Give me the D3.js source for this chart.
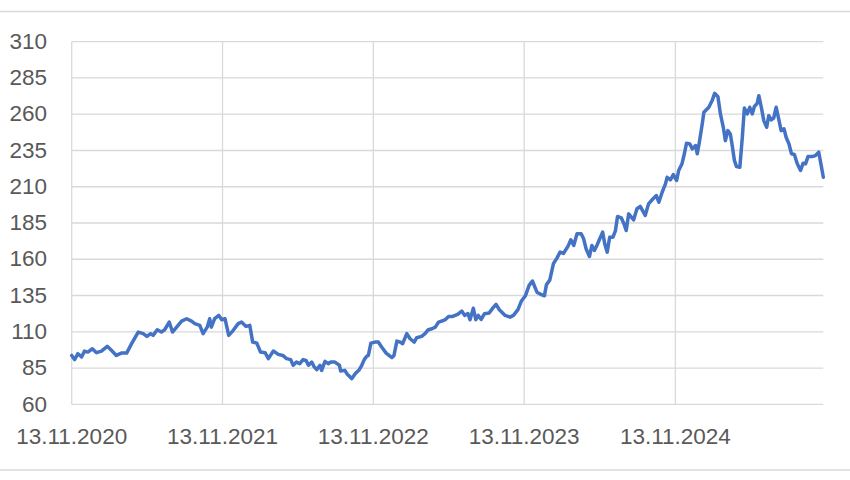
<!DOCTYPE html>
<html>
<head>
<meta charset="utf-8">
<script src="https://cdn.jsdelivr.net/npm/d3@7"></script>
<style>
  html, body { margin: 0; padding: 0; background: #fff; }
  svg { display: block; }
</style>
</head>
<body>
<div id="chart"></div>
<script>
// Price series: days after the first date, and value.
const START_DATE = '2020-11-13';
const DAY_OFFSETS = [
  0, 7, 15, 24, 31, 39, 50, 60, 72, 86, 96, 108, 120, 133, 145, 161, 173, 182, 191, 197,
  207, 217, 225, 236, 244, 254, 266, 278, 290, 298, 310, 318, 328, 334, 338, 346, 356, 363, 371, 380,
  391, 403, 411, 422, 431, 438, 448, 457, 468, 476, 488, 500, 511, 520, 530, 536, 544, 552, 560, 567,
  573, 581, 586, 593, 601, 605, 613, 621, 627, 637, 648, 651, 661, 667, 678, 686, 696, 702, 708, 714,
  718, 724, 734, 742, 750, 761, 775, 780, 787, 795, 801, 811, 819, 829, 835, 847, 855, 863, 872, 880,
  888, 896, 904, 912, 922, 934, 944, 951, 959, 964, 972, 978, 984, 991, 999, 1010, 1018, 1027, 1035, 1049,
  1061, 1069, 1080, 1088, 1098, 1107, 1115, 1126, 1134, 1144, 1149, 1157, 1166, 1174, 1182, 1190, 1201, 1208, 1215, 1223,
  1233, 1239, 1245, 1253, 1259, 1265, 1271, 1278, 1285, 1290, 1296, 1302, 1310, 1316, 1321, 1330, 1336, 1342, 1348, 1360,
  1368, 1376, 1388, 1396, 1407, 1415, 1421, 1429, 1437, 1441, 1449, 1456, 1464, 1469, 1477, 1483, 1488, 1496, 1502, 1510,
  1514, 1519, 1526, 1530, 1542, 1550, 1556, 1564, 1570, 1577, 1582, 1588, 1594, 1598, 1604, 1609, 1617, 1623, 1628, 1635,
  1641, 1647, 1652, 1659, 1663, 1669, 1675, 1682, 1687, 1693, 1699, 1705, 1711, 1717, 1724, 1729, 1736, 1742, 1749, 1756,
  1764, 1770, 1776, 1782, 1792, 1800, 1808, 1814, 1819
];
const PRICES = [
  93.7, 90.8, 94.9, 92.6, 96.7, 96.0, 98.3, 95.6, 96.7, 100.0, 97.2, 93.7, 95.3, 95.3, 101.8, 109.8, 108.7, 106.8, 108.7, 107.5,
  111.4, 109.8, 111.4, 116.7, 109.8, 113.2, 117.4, 119.0, 117.4, 115.6, 114.4, 108.7, 113.2, 119.0, 113.2, 119.0, 121.3, 118.3, 119.0, 107.5,
  111.0, 115.6, 116.7, 113.7, 114.4, 102.9, 102.2, 96.0, 95.6, 91.5, 96.7, 94.4, 93.7, 91.5, 90.8, 86.9, 89.1, 88.0, 90.8, 90.3,
  86.9, 89.1, 86.2, 83.9, 86.9, 83.4, 89.6, 88.0, 89.1, 89.1, 86.9, 82.9, 83.4, 80.7, 77.7, 81.1, 83.9, 86.9, 90.8, 93.1,
  93.7, 102.2, 102.9, 102.9, 99.5, 95.3, 92.2, 93.7, 103.6, 102.9, 101.8, 108.7, 105.2, 102.9, 105.9, 106.8, 108.7, 111.4, 112.1, 113.2,
  116.7, 117.4, 118.3, 120.6, 120.6, 122.0, 124.3, 121.3, 122.5, 118.3, 126.2, 118.3, 121.3, 118.5, 122.5, 122.9, 125.9, 128.9, 125.2, 121.3,
  120.1, 121.3, 125.3, 131.0, 134.8, 142.0, 145.0, 137.3, 136.0, 134.8, 142.5, 145.6, 157.1, 160.6, 164.9, 164.0, 168.9, 173.4, 169.5, 177.6,
  177.6, 174.1, 167.2, 161.9, 169.5, 166.1, 169.5, 174.1, 178.7, 170.7, 164.9, 175.2, 175.2, 179.8, 189.5, 188.6, 184.9, 179.8, 191.3, 187.2,
  194.8, 196.4, 190.2, 198.2, 201.7, 203.9, 199.3, 206.2, 212.0, 216.5, 214.8, 218.4, 214.3, 221.2, 225.8, 233.1, 240.0, 239.5, 236.1, 238.4,
  232.7, 240.7, 253.3, 261.3, 264.8, 269.4, 274.4, 272.1, 260.2, 251.0, 241.8, 248.7, 246.4, 239.5, 228.0, 223.9, 223.4, 244.1, 264.3, 260.2,
  264.8, 260.2, 265.2, 267.5, 272.8, 264.8, 255.6, 251.0, 259.0, 256.1, 257.4, 264.8, 256.8, 248.7, 249.9, 244.1, 239.5, 232.7, 232.2, 225.8,
  221.2, 226.2, 225.8, 230.8, 230.8, 231.5, 233.8, 224.6, 216.5
];
const X_TICK_DATES = ['2020-11-13', '2021-11-13', '2022-11-13', '2023-11-13', '2024-11-13'];
const Y_TICKS = [60, 85, 110, 135, 160, 185, 210, 235, 260, 285, 310];

const WIDTH = 850;
const HEIGHT = 480;
const MARGIN = { top: 41.7, right: 26.7, bottom: 75.7, left: 71.7 };
const GRID_COLOR = '#d9d9d9';
const TEXT_COLOR = '#595959';
const LINE_COLOR = '#4472c4';
const FONT = '"Liberation Sans", Arial, sans-serif';

const parseDate = d3.utcParse('%Y-%m-%d');
const fmtDate = d3.utcFormat('%d.%m.%Y');
const start = parseDate(START_DATE);
const data = DAY_OFFSETS.map((d, i) => ({ date: d3.utcDay.offset(start, d), value: PRICES[i] }));

const svg = d3.select('#chart')
  .append('svg')
  .attr('width', WIDTH)
  .attr('height', HEIGHT);

// chart area border (top and bottom edges visible)
svg.append('line')
  .attr('x1', 0).attr('x2', WIDTH).attr('y1', 11.5).attr('y2', 11.5)
  .attr('stroke', GRID_COLOR).attr('stroke-width', 1.5);
svg.append('line')
  .attr('x1', 0).attr('x2', WIDTH).attr('y1', 470).attr('y2', 470)
  .attr('stroke', GRID_COLOR).attr('stroke-width', 1.5);

const x = d3.scaleUtc()
  .domain([start, data[data.length - 1].date])
  .range([MARGIN.left, WIDTH - MARGIN.right]);

const y = d3.scaleLinear()
  .domain([Y_TICKS[0], Y_TICKS[Y_TICKS.length - 1]])
  .range([HEIGHT - MARGIN.bottom, MARGIN.top]);

const xTicks = X_TICK_DATES.map(parseDate);

const g = svg.append('g');

g.selectAll('.hgrid')
  .data(Y_TICKS)
  .join('line')
  .attr('class', 'hgrid')
  .attr('x1', x.range()[0])
  .attr('x2', x.range()[1])
  .attr('y1', (d) => y(d))
  .attr('y2', (d) => y(d))
  .attr('stroke', GRID_COLOR)
  .attr('stroke-width', 1.3);

g.selectAll('.vgrid')
  .data(xTicks)
  .join('line')
  .attr('class', 'vgrid')
  .attr('x1', (d) => x(d))
  .attr('x2', (d) => x(d))
  .attr('y1', y.range()[1])
  .attr('y2', y.range()[0])
  .attr('stroke', GRID_COLOR)
  .attr('stroke-width', 1.3);

g.selectAll('.ylab')
  .data(Y_TICKS)
  .join('text')
  .attr('class', 'ylab')
  .attr('x', 47)
  .attr('y', (d) => y(d))
  .attr('dy', '0.32em')
  .attr('text-anchor', 'end')
  .attr('font-family', FONT)
  .attr('font-size', '22.5px')
  .attr('fill', TEXT_COLOR)
  .text((d) => d);

g.selectAll('.xlab')
  .data(xTicks)
  .join('text')
  .attr('class', 'xlab')
  .attr('x', (d) => x(d))
  .attr('y', y.range()[0] + 40)
  .attr('text-anchor', 'middle')
  .attr('font-family', FONT)
  .attr('font-size', '22.5px')
  .attr('fill', TEXT_COLOR)
  .text((d) => fmtDate(d));

const line = d3.line()
  .x((d) => x(d.date))
  .y((d) => y(d.value));

g.append('path')
  .datum(data)
  .attr('fill', 'none')
  .attr('stroke', LINE_COLOR)
  .attr('stroke-width', 3.5)
  .attr('stroke-linejoin', 'round')
  .attr('stroke-linecap', 'round')
  .attr('d', line);
</script>
</body>
</html>
